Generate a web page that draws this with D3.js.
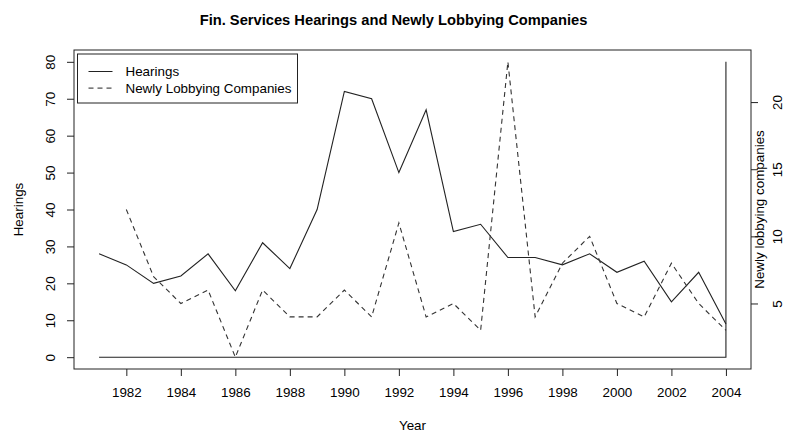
<!DOCTYPE html>
<html>
<head>
<meta charset="utf-8">
<title>Fin. Services Hearings and Newly Lobbying Companies</title>
<style>
body { margin: 0; background: #fff; }
text { font-family: "Liberation Sans", Arial, sans-serif; fill: #000; }
</style>
</head>
<body>
<script src="https://d3js.org/d3.v7.min.js"></script>
<script>
// data
var years = [1981, 1982, 1983, 1984, 1985, 1986, 1987, 1988, 1989, 1990, 1991, 1992,
             1993, 1994, 1995, 1996, 1997, 1998, 1999, 2000, 2001, 2002, 2003, 2004];
var hearings = [28, 25, 20, 22, 28, 18, 31, 24, 40, 72, 70, 50,
                67, 34, 36, 27, 27, 25, 28, 23, 26, 15, 23, 9];
var companies = [null, 12, 7, 5, 6, 1, 6, 4, 4, 6, 4, 11,
                 4, 5, 3, 23, 4, 8, 10, 5, 4, 8, 5, 3];
// the extra 0 / 80 segments that were plotted with the hearings series
var extraYears = [1981, 2004, 2004];
var extraVals = [0, 0, 80];

var leftTicks = [0, 10, 20, 30, 40, 50, 60, 70, 80];
var rightTicks = [5, 10, 15, 20];
var yearTicks = [1982, 1984, 1986, 1988, 1990, 1992, 1994, 1996, 1998, 2000, 2002, 2004];
var legendLabels = ["Hearings", "Newly Lobbying Companies"];

var width = 787, height = 436;
var margin = {top: 50, right: 36, bottom: 67, left: 74};

var svg = d3.select("body").append("svg")
    .attr("width", width)
    .attr("height", height);

// R style 4% extension of the data range
function ext(lo, hi) {
  var d = (hi - lo) * 0.04;
  return [lo - d, hi + d];
}

var x = d3.scaleLinear()
    .domain(ext(d3.min(years), d3.max(years)))
    .range([margin.left, width - margin.right]);

var yL = d3.scaleLinear()
    .domain(ext(0, 80))
    .range([height - margin.bottom, margin.top]);

var cVals = companies.filter(function(d) { return d != null; });
var yR = d3.scaleLinear()
    .domain(ext(d3.min(cVals), d3.max(cVals)))
    .range([height - margin.bottom, margin.top]);

// lines
var lineL = d3.line()
    .x(function(d, i) { return x(years[i]); })
    .y(function(d) { return yL(d); });

svg.append("path")
    .datum(hearings)
    .attr("d", lineL)
    .attr("fill", "none")
    .attr("stroke", "#222")
    .attr("stroke-width", 1.1);

svg.append("path")
    .datum(extraVals)
    .attr("d", d3.line()
      .x(function(d, i) { return x(extraYears[i]); })
      .y(function(d) { return yL(d); }))
    .attr("fill", "none")
    .attr("stroke", "#222")
    .attr("stroke-width", 1.1);

var lineR = d3.line()
    .defined(function(d) { return d != null; })
    .x(function(d, i) { return x(years[i]); })
    .y(function(d) { return yR(d); });

svg.append("path")
    .datum(companies)
    .attr("d", lineR)
    .attr("fill", "none")
    .attr("stroke", "#333")
    .attr("stroke-width", 1.1)
    .attr("stroke-dasharray", "5,4");

// box
svg.append("rect")
    .attr("x", margin.left)
    .attr("y", margin.top)
    .attr("width", width - margin.left - margin.right)
    .attr("height", height - margin.top - margin.bottom)
    .attr("fill", "none")
    .attr("stroke", "#222");

var fs = 13.4;

// left axis
var gL = svg.append("g")
    .attr("transform", "translate(" + margin.left + ",0)")
    .call(d3.axisLeft(yL).tickValues(leftTicks).tickSize(7).tickFormat(d3.format("d")));
gL.select(".domain").remove();
gL.selectAll("line").attr("stroke", "#222");
gL.selectAll("text")
    .attr("x", null).attr("dy", null)
    .attr("text-anchor", "middle")
    .attr("transform", "translate(-19,0) rotate(-90)")
    .style("font-size", fs + "px")
    .style("font-family", "'Liberation Sans', Arial, sans-serif")
    .attr("fill", "#000");

// right axis
var gR = svg.append("g")
    .attr("transform", "translate(" + (width - margin.right) + ",0)")
    .call(d3.axisRight(yR).tickValues(rightTicks).tickSize(7).tickFormat(d3.format("d")));
gR.select(".domain").remove();
gR.selectAll("line").attr("stroke", "#222");
gR.selectAll("text")
    .attr("x", null).attr("dy", null)
    .attr("text-anchor", "middle")
    .attr("transform", "translate(31,0) rotate(-90)")
    .style("font-size", fs + "px")
    .style("font-family", "'Liberation Sans', Arial, sans-serif")
    .attr("fill", "#000");

// bottom axis
var gB = svg.append("g")
    .attr("transform", "translate(0," + (height - margin.bottom) + ")")
    .call(d3.axisBottom(x).tickValues(yearTicks).tickSize(7).tickFormat(d3.format("d")));
gB.select(".domain").remove();
gB.selectAll("line").attr("stroke", "#222");
gB.selectAll("text")
    .attr("y", 28).attr("dy", null)
    .style("font-size", fs + "px")
    .style("font-family", "'Liberation Sans', Arial, sans-serif")
    .attr("fill", "#000");

// titles
var midY = (margin.top + height - margin.bottom) / 2;
svg.append("text")
    .attr("x", width / 2)
    .attr("y", 25)
    .attr("text-anchor", "middle")
    .style("font-size", "14.7px")
    .style("font-weight", "bold")
    .text("Fin. Services Hearings and Newly Lobbying Companies");

svg.append("text")
    .attr("transform", "translate(23," + midY + ") rotate(-90)")
    .attr("text-anchor", "middle")
    .style("font-size", fs + "px")
    .text("Hearings");

svg.append("text")
    .attr("transform", "translate(764," + midY + ") rotate(-90)")
    .attr("text-anchor", "middle")
    .style("font-size", fs + "px")
    .text("Newly lobbying companies");

svg.append("text")
    .attr("x", (margin.left + width - margin.right) / 2)
    .attr("y", 430)
    .attr("text-anchor", "middle")
    .style("font-size", fs + "px")
    .text("Year");

// legend
var lg = svg.append("g")
    .attr("transform", "translate(" + (margin.left + 3.5) + "," + (margin.top + 4) + ")");
lg.append("rect")
    .attr("width", 220)
    .attr("height", 49)
    .attr("fill", "#fff")
    .attr("stroke", "#222");
legendLabels.forEach(function(lab, i) {
  var yy = 17.5 + i * 16.6;
  lg.append("line")
    .attr("x1", 11).attr("x2", 35)
    .attr("y1", yy).attr("y2", yy)
    .attr("stroke", "#222")
    .attr("stroke-dasharray", i === 1 ? "5,4" : null);
  lg.append("text")
    .attr("x", 48)
    .attr("y", yy + 4.5)
    .style("font-size", fs + "px")
    .text(lab);
});
</script>
</body>
</html>
